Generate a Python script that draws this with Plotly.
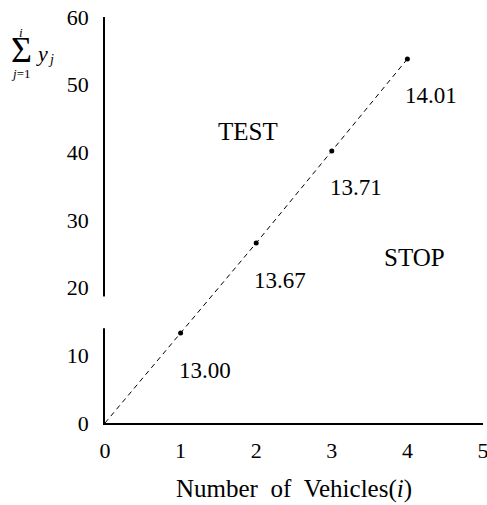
import plotly.graph_objects as go

# Data
vehicles = [0, 1, 2, 3, 4]
cum_sum = [0, 13.3, 26.6, 40.2, 53.8]
avg_labels = ["13.00", "13.67", "13.71", "14.01"]
x_ticks = [0, 1, 2, 3, 4, 5]
y_ticks = [0, 10, 20, 30, 40, 50, 60]

FONT = "Liberation Serif"

fig = go.Figure()
fig.add_trace(go.Scatter(
    x=vehicles, y=cum_sum, mode="lines",
    line=dict(color="black", width=1, dash="5px,4px"),
    hoverinfo="skip", showlegend=False))
fig.add_trace(go.Scatter(
    x=vehicles[1:], y=cum_sum[1:], mode="markers",
    marker=dict(color="black", size=5),
    showlegend=False))

annotations = []
for xv, yv, lab in zip(vehicles[1:], cum_sum[1:], avg_labels):
    annotations.append(dict(x=xv, y=yv, xref="x", yref="y", text=lab,
                            showarrow=False, xshift=24, yshift=-37,
                            font=dict(family=FONT, size=23, color="black")))


def ytitle(text, dx, dy, size):
    return dict(x=0, y=1, xref="paper", yref="paper", text=text, showarrow=False,
                xanchor="center", yanchor="middle", xshift=dx, yshift=dy,
                font=dict(family=FONT, size=size, color="black"))


annotations += [
    dict(x=1.89, y=43.1, xref="x", yref="y", text="TEST", showarrow=False,
         font=dict(family=FONT, size=25, color="black")),
    dict(x=4.1, y=24.4, xref="x", yref="y", text="STOP", showarrow=False,
         font=dict(family=FONT, size=25, color="black")),
    # y-axis title: sum_{j=1}^{i} y_j
    ytitle("Σ", -84, -33, 36),
    ytitle("<i>i</i>", -84, -15, 13),
    ytitle("<i>j</i>=1", -85, -56, 13),
    ytitle("<i>y</i>", -63, -36, 22),
    ytitle("<i>j</i>", -54, -42, 14),
]

fig.update_layout(
    width=487, height=505,
    margin=dict(l=105, r=4, t=17, b=82),
    plot_bgcolor="white", paper_bgcolor="white",
    font=dict(family=FONT, size=22, color="black"),
    annotations=annotations,
    shapes=[dict(type="rect", xref="paper", yref="y", x0=-0.02, x1=0.01,
                 y0=14.0, y1=18.7, fillcolor="white", line=dict(width=0),
                 layer="above")],
    xaxis=dict(range=[0, 5], tickvals=x_ticks, showgrid=False, zeroline=False,
               showline=True, linecolor="black", linewidth=1.5, ticks="",
               ticklabelstandoff=7, ticklabeloverflow="allow", automargin=False,
               title=dict(text="Number&nbsp;&nbsp;of&nbsp;&nbsp;Vehicles(<i>i</i>)",
                          font=dict(family=FONT, size=25), standoff=17)),
    yaxis=dict(range=[0, 60], tickvals=y_ticks, showgrid=False, zeroline=False,
               showline=True, linecolor="black", linewidth=1.5, ticks="",
               ticklabelstandoff=10, automargin=False),
)

fig.write_html("out.html", config={"displayModeBar": False},
               post_script="document.body.style.margin='0';document.body.style.overflow='hidden';")
